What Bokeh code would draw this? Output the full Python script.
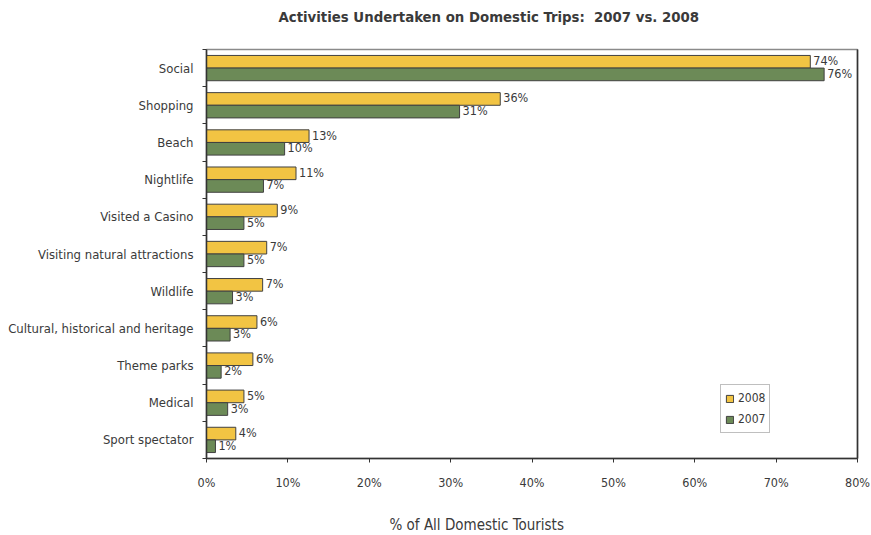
import numpy as np
from bokeh.plotting import figure
from bokeh.models import (ColumnDataSource, FixedTicker, LinearAxis, Range1d,
                          Title, Legend, LegendItem, PrintfTickFormatter)
from bokeh.core.properties import value
from bokeh.embed import file_html
from bokeh.resources import INLINE

categories = ["Social", "Shopping", "Beach", "Nightlife", "Visited a Casino",
              "Visiting natural attractions", "Wildlife",
              "Cultural, historical and heritage", "Theme parks", "Medical",
              "Sport spectator"]
values_2008 = [74.2, 36.1, 12.6, 11.0, 8.7, 7.4, 6.9, 6.2, 5.7, 4.6, 3.6]
values_2007 = [75.9, 31.1, 9.6, 7.0, 4.6, 4.6, 3.2, 2.9, 1.8, 2.6, 1.1]
labels_2008 = ["74%", "36%", "13%", "11%", "9%", "7%", "7%", "6%", "6%", "5%", "4%"]
labels_2007 = ["76%", "31%", "10%", "7%", "5%", "5%", "3%", "3%", "2%", "3%", "1%"]
x_ticks = [0, 10, 20, 30, 40, 50, 60, 70, 80]
title_text = "Activities Undertaken on Domestic Trips:\u00a0 2007 vs. 2008"
x_title_text = "% of All Domestic Tourists"

FONT = "DejaVu Sans Condensed"
TXT = "#3a3a3a"
YELLOW = "#F2C443"
GREEN = "#6C8A57"
EDGE = "#404040"

n = len(categories)
centers = n - np.arange(n) - 0.5
bar_h = 0.34

src08 = ColumnDataSource(dict(y=centers + bar_h / 2, v=values_2008, lab=labels_2008))
src07 = ColumnDataSource(dict(y=centers - bar_h / 2, v=values_2007, lab=labels_2007))

p = figure(width=871, height=535, output_backend="svg", toolbar_location=None,
           x_range=Range1d(0, 80), y_range=Range1d(0, n),
           min_border_left=206, min_border_right=14, min_border_top=49,
           min_border_bottom=77)
p.title.text = ""

p.xgrid.visible = False
p.ygrid.visible = False
p.outline_line_color = "#8a8a8a"
p.outline_line_width = 1.5

r08 = p.hbar(y="y", right="v", left=0, height=bar_h, source=src08,
             fill_color=YELLOW, line_color=EDGE, line_width=1)
r07 = p.hbar(y="y", right="v", left=0, height=bar_h, source=src07,
             fill_color=GREEN, line_color=EDGE, line_width=1)

for s in (src08, src07):
    p.text(x="v", y="y", text="lab", source=s, x_offset=3, y_offset=-1,
           text_font=value(FONT), text_font_size="12.5px", text_color=TXT,
           text_baseline="middle", text_align="left")

# x axis
xa = p.xaxis[0]
xa.ticker = FixedTicker(ticks=x_ticks)
xa.formatter = PrintfTickFormatter(format="%d%%")
xa.major_tick_out = 4
xa.major_tick_in = 0
xa.minor_tick_line_color = None
xa.major_label_standoff = 12
xa.major_label_text_font = FONT
xa.major_label_text_font_size = "12.5px"
xa.major_label_text_color = TXT
xa.axis_line_color = "#333333"
xa.major_tick_line_color = "#333333"
xa.axis_line_width = 1.5

# y axis: labels at band centres, tick marks at band boundaries
ya = p.yaxis[0]
ya.ticker = FixedTicker(ticks=list(centers), minor_ticks=list(np.arange(n + 1)))
ya.major_label_overrides = {float(c): cat for c, cat in zip(centers, categories)}
ya.major_tick_line_color = None
ya.minor_tick_out = 4
ya.minor_tick_in = 0
ya.minor_tick_line_color = "#333333"
ya.major_label_standoff = 7
ya.major_label_text_font = FONT
ya.major_label_text_font_size = "13px"
ya.major_label_text_color = TXT
ya.axis_line_color = "#333333"
ya.axis_line_width = 1.5

# dark right border
ra = LinearAxis(ticker=FixedTicker(ticks=[]), major_label_text_font_size="0px",
                axis_line_color="#333333", axis_line_width=1.5,
                major_tick_line_color=None, minor_tick_line_color=None)
p.add_layout(ra, "right")

# spacers + titles
p.add_layout(Title(text="\u00a0", text_font_size="1px", standoff=20), "above")
p.add_layout(Title(text=title_text, align="left", offset=72, text_font=FONT,
                   text_font_size="14.8px", text_font_style="bold",
                   text_color=TXT, standoff=4), "above")
p.add_layout(Title(text="\u00a0", text_font_size="1px", standoff=16), "below")
p.add_layout(Title(text=x_title_text, align="left", offset=183, text_font=FONT,
                   text_font_size="15px", text_font_style="normal",
                   text_color=TXT, standoff=4), "below")

legend = Legend(items=[LegendItem(label="2008", renderers=[r08]),
                       LegendItem(label="2007", renderers=[r07])],
                location=(514, 25), orientation="vertical",
                glyph_width=9, glyph_height=9, label_standoff=4,
                label_height=18, spacing=3, padding=4, margin=0,
                label_text_font=FONT, label_text_font_size="12px",
                label_text_color=TXT, border_line_color="#808080",
                border_line_width=1, background_fill_color="white",
                background_fill_alpha=1)
p.add_layout(legend)

open("out.html", "w").write(file_html(p, INLINE))
